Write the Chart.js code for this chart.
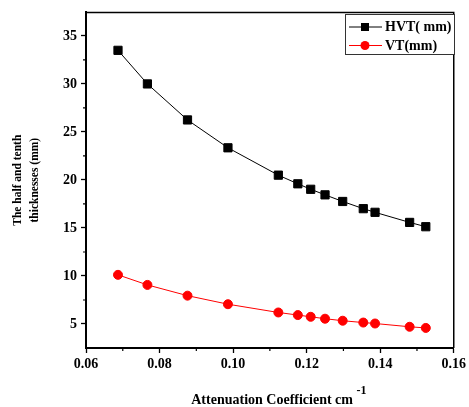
<!DOCTYPE html>
<html>
<head>
<meta charset="utf-8">
<script src="https://cdn.jsdelivr.net/npm/chart.js@4/dist/chart.umd.min.js"></script>
<style>
html,body{margin:0;padding:0;background:#fff;}
#wrap{width:469px;height:407px;}
</style>
</head>
<body>
<div id="wrap"><canvas id="c" width="469" height="407"></canvas></div>
<script>
// Data
const attenuation = [0.0687, 0.0767, 0.0876, 0.0986, 0.1123, 0.1176, 0.1211, 0.1250, 0.1298, 0.1354, 0.1386, 0.1480, 0.1524];
const hvt = [33.5, 30.0, 26.25, 23.35, 20.5, 19.6, 19.03, 18.45, 17.76, 17.01, 16.63, 15.58, 15.13];
const vt  = [10.12, 9.07, 7.95, 7.06, 6.2, 5.93, 5.75, 5.55, 5.34, 5.15, 5.05, 4.71, 4.59];
const xTicks = [0.06, 0.08, 0.10, 0.12, 0.14, 0.16];
const xMinorTicks = [0.07, 0.09, 0.11, 0.13, 0.15];
const yTicks = [5, 10, 15, 20, 25, 30, 35];
const yMinorTicks = [7.5, 12.5, 17.5, 22.5, 27.5, 32.5];
const seriesLabels = ['HVT( mm)', 'VT(mm)'];
const xTitle = 'Attenuation Coefficient cm';
const xTitleSup = '-1';
const yTitle = ['The half and tenth', 'thicknesses (mm)'];

const FONT = "'Liberation Serif', 'Times New Roman', serif";

const pts = (ys) => attenuation.map((x, i) => ({x: x, y: ys[i]}));

const extras = {
  id: 'extras',
  afterDraw(chart) {
    const ctx = chart.ctx;
    const a = chart.chartArea;
    const xs = chart.scales.x, ys = chart.scales.y;
    ctx.save();
    // frame top & right
    ctx.strokeStyle = '#000';
    ctx.lineWidth = 1.5;
    ctx.beginPath();
    ctx.moveTo(a.left, a.top); ctx.lineTo(a.right, a.top); ctx.lineTo(a.right, a.bottom);
    ctx.stroke();
    // minor ticks
    ctx.lineWidth = 1.2;
    ctx.beginPath();
    xMinorTicks.forEach(v => { const px = xs.getPixelForValue(v); ctx.moveTo(px, a.bottom); ctx.lineTo(px, a.bottom + 3); });
    yMinorTicks.forEach(v => { const py = ys.getPixelForValue(v); ctx.moveTo(a.left, py); ctx.lineTo(a.left - 3, py); });
    ctx.stroke();
    // x title with superscript
    ctx.fillStyle = '#000';
    ctx.textBaseline = 'alphabetic';
    ctx.font = 'bold 14px ' + FONT;
    const w1 = ctx.measureText(xTitle + ' ').width;
    ctx.font = 'bold 12px ' + FONT;
    const w2 = ctx.measureText(xTitleSup).width;
    const cx = (a.left + a.right) / 2 + 9;
    const x0 = cx - (w1 + w2) / 2;
    ctx.font = 'bold 14px ' + FONT;
    ctx.textAlign = 'left';
    ctx.fillText(xTitle, x0, 404);
    ctx.font = 'bold 12px ' + FONT;
    ctx.fillText(xTitleSup, x0 + w1, 394);
    // legend
    const lx = 345, ly = 14, lw = 109, lh = 40;
    ctx.fillStyle = '#fff';
    ctx.fillRect(lx, ly, lw, lh);
    ctx.strokeStyle = '#333';
    ctx.lineWidth = 1;
    ctx.strokeRect(lx + 0.5, ly + 0.5, lw, lh);
    chart.data.datasets.forEach((ds, i) => {
      const y = ly + 13 + i * 18.5;
      ctx.strokeStyle = ds.borderColor;
      ctx.lineWidth = 1;
      ctx.beginPath(); ctx.moveTo(lx + 4, y); ctx.lineTo(lx + 37, y); ctx.stroke();
      ctx.fillStyle = ds.pointBackgroundColor;
      if (ds.pointStyle === 'rect') {
        ctx.fillRect(lx + 20 - 4, y - 4, 8, 8);
      } else {
        ctx.beginPath(); ctx.arc(lx + 20, y, 4.5, 0, Math.PI * 2); ctx.fill();
      }
      ctx.fillStyle = '#000';
      ctx.font = 'bold 14px ' + FONT;
      ctx.textAlign = 'left';
      ctx.textBaseline = 'middle';
      ctx.fillText(ds.label, lx + 40, y + 0.5);
    });
    ctx.restore();
  }
};

new Chart(document.getElementById('c'), {
  type: 'scatter',
  data: {
    datasets: [
      {
        label: seriesLabels[0], data: pts(hvt), showLine: true,
        borderColor: '#000', borderWidth: 1, backgroundColor: '#000',
        pointBackgroundColor: '#000', pointBorderColor: '#000',
        pointStyle: 'rect', pointRadius: 5.8, pointHoverRadius: 5.8, tension: 0
      },
      {
        label: seriesLabels[1], data: pts(vt), showLine: true,
        borderColor: '#ff0000', borderWidth: 1, backgroundColor: '#ff0000',
        pointBackgroundColor: '#ff0000', pointBorderColor: '#ff0000',
        pointStyle: 'circle', pointRadius: 4.5, pointHoverRadius: 4.5, tension: 0
      }
    ]
  },
  options: {
    responsive: false,
    animation: false,
    events: [],
    layout: { padding: { top: 12, right: 13, left: 0, bottom: 0 } },
    plugins: { legend: { display: false }, tooltip: { enabled: false } },
    scales: {
      x: {
        type: 'linear', min: 0.06, max: 0.16,
        afterBuildTicks: s => { s.ticks = xTicks.map(v => ({value: v})); },
        afterFit: s => { s.height = 59; },
        grid: { display: true, drawOnChartArea: false, drawTicks: true, tickLength: 5, tickColor: '#000', tickWidth: 1.3 },
        border: { display: true, color: '#000', width: 2 },
        ticks: { color: '#000', padding: 3, font: { family: FONT, size: 14, weight: 'bold' }, maxRotation: 0,
                 callback: v => Number(v).toFixed(2) }
      },
      y: {
        type: 'linear', min: 2.5, max: 37.45,
        afterBuildTicks: s => { s.ticks = yTicks.map(v => ({value: v})); },
        afterFit: s => { s.width = 86; },
        grid: { display: true, drawOnChartArea: false, drawTicks: true, tickLength: 5, tickColor: '#000', tickWidth: 1.3 },
        border: { display: true, color: '#000', width: 2 },
        ticks: { color: '#000', padding: 4, font: { family: FONT, size: 14, weight: 'bold' },
                 callback: v => String(v) },
        title: { display: true, text: yTitle, color: '#000', padding: { top: 9.5, bottom: 0 },
                 font: { family: FONT, size: 11.5, weight: 'bold', lineHeight: 1.48 } }
      }
    }
  },
  plugins: [extras]
});
</script>
</body>
</html>
